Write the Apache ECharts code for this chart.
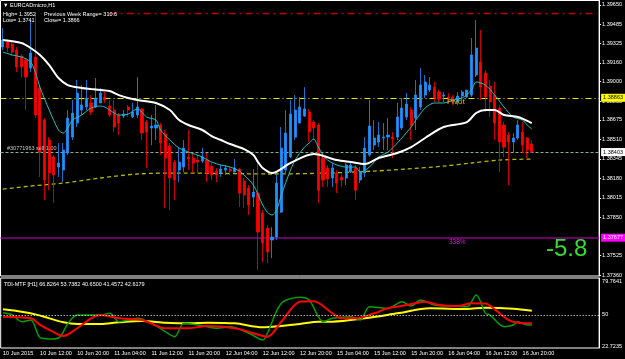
<!DOCTYPE html>
<html><head><meta charset="utf-8">
<script src="https://cdn.jsdelivr.net/npm/echarts@6/dist/echarts.min.js"></script>
<style>html,body{margin:0;padding:0;background:#000}#c{width:625px;height:359px}</style>
</head><body><div id="c"></div><script>
// ---- data ----
const opens=[1.39293,1.39336,1.39319,1.39268,1.39217,1.39183,1.39115,1.39209,1.38946,1.38674,
1.38505,1.38361,1.38276,1.38250,1.38395,1.38530,1.38649,1.38759,1.38785,1.38819,
1.38785,1.38819,1.38870,1.38793,1.38759,1.38717,1.38708,1.38785,1.38700,1.38717,
1.38768,1.38657,1.38607,1.38607,1.38632,1.38556,1.38454,1.38318,1.38250,1.38276,
1.38361,1.38352,1.38335,1.38327,1.38335,1.38284,1.38242,1.38225,1.38250,1.38259,
1.38233,1.38259,1.38157,1.38098,1.38021,1.38055,1.37886,1.37758,1.37657,1.37682,
1.37894,1.38250,1.38361,1.38530,1.38649,1.38708,1.38742,1.38657,1.38632,1.38352,
1.38267,1.38183,1.38225,1.38191,1.38183,1.38233,1.38267,1.38166,1.38225,1.38378,
1.38462,1.38488,1.38522,1.38530,1.38530,1.38530,1.38607,1.38700,1.38759,1.38691,
1.38785,1.38886,1.38929,1.38954,1.38912,1.38878,1.38870,1.38870,1.38827,1.38878,
1.38870,1.38886,1.39056,1.39166,1.39073,1.38963,1.38886,1.38776,1.38632,1.38547,
1.38488,1.38522,1.38573,1.38522,1.38471];
const closes=[1.39353,1.39285,1.39251,1.39124,1.39124,1.39039,1.39243,1.38717,1.38403,1.38166,
1.38225,1.38208,1.38310,1.38420,1.38691,1.38734,1.38903,1.38802,1.38861,1.38742,
1.38861,1.38903,1.38844,1.38717,1.38615,1.38649,1.38725,1.38759,1.38742,1.38785,
1.38564,1.38573,1.38624,1.38632,1.38479,1.38352,1.38183,1.38166,1.38318,1.38437,
1.38344,1.38310,1.38318,1.38361,1.38225,1.38208,1.38208,1.38259,1.38267,1.38242,
1.38267,1.38055,1.38038,1.37954,1.38064,1.37725,1.37632,1.37555,1.37682,1.38140,
1.38437,1.38564,1.38725,1.38759,1.38785,1.38768,1.38573,1.38607,1.38080,1.38166,
1.38174,1.38267,1.38140,1.38166,1.38293,1.38293,1.38080,1.38233,1.38437,1.38624,
1.38522,1.38547,1.38530,1.38547,1.38513,1.38700,1.38776,1.38810,1.38632,1.38886,
1.38971,1.38997,1.38971,1.38861,1.38853,1.38886,1.38861,1.38827,1.38878,1.38912,
1.38929,1.39226,1.39285,1.38954,1.38870,1.38827,1.38649,1.38488,1.38445,1.38488,
1.38522,1.38632,1.38462,1.38420,1.38403];
const lows=[1.39268,1.39251,1.39217,1.39081,1.39039,1.38759,1.39081,1.38691,1.38191,1.37996,
1.38080,1.37970,1.38191,1.38149,1.38378,1.38505,1.38615,1.38717,1.38759,1.38717,
1.38776,1.38819,1.38819,1.38700,1.38573,1.38547,1.38691,1.38700,1.38691,1.38691,
1.38505,1.38267,1.38462,1.38505,1.38378,1.37928,1.37911,1.37996,1.38149,1.38233,
1.38250,1.38225,1.38225,1.38310,1.38149,1.38166,1.38149,1.38191,1.38208,1.38208,
1.38233,1.37937,1.37928,1.37869,1.37937,1.37402,1.37470,1.37462,1.37504,1.37657,
1.37886,1.38225,1.38352,1.38505,1.38649,1.38700,1.38488,1.38505,1.37970,1.38106,
1.38106,1.38106,1.38055,1.38106,1.38123,1.38225,1.37996,1.38140,1.38191,1.38361,
1.38420,1.38445,1.38420,1.38420,1.38352,1.38505,1.38590,1.38674,1.38505,1.38590,
1.38759,1.38861,1.38912,1.38827,1.38827,1.38827,1.38819,1.38802,1.38802,1.38844,
1.38861,1.38870,1.39039,1.38844,1.38742,1.38700,1.38505,1.38233,1.38361,1.38123,
1.38395,1.38505,1.38395,1.38352,1.38395];
const highs=[1.39455,1.39353,1.39336,1.39293,1.39234,1.39200,1.39522,1.39582,1.38971,1.38691,
1.38530,1.38378,1.38479,1.38479,1.38759,1.38844,1.39014,1.38971,1.39014,1.38886,
1.39031,1.38946,1.38912,1.38844,1.38844,1.38734,1.38759,1.38802,1.38819,1.39039,
1.38776,1.38674,1.38717,1.38802,1.38649,1.38590,1.38479,1.38335,1.38437,1.38505,
1.38590,1.38395,1.38378,1.38437,1.38395,1.38310,1.38267,1.38293,1.38293,1.38276,
1.38344,1.38267,1.38183,1.38123,1.38259,1.38318,1.37911,1.37784,1.37767,1.38208,
1.38615,1.38759,1.38844,1.38886,1.38870,1.38954,1.38768,1.38674,1.38649,1.38378,
1.38293,1.38310,1.38250,1.38225,1.38310,1.38318,1.38293,1.38276,1.38530,1.38844,
1.38674,1.38657,1.38649,1.38691,1.38573,1.38819,1.38861,1.38903,1.38785,1.39014,
1.39115,1.39056,1.39039,1.38997,1.38929,1.38912,1.38903,1.38886,1.38912,1.38929,
1.38929,1.39370,1.39522,1.39438,1.39098,1.39014,1.38997,1.38802,1.38657,1.38573,
1.38564,1.38674,1.38657,1.38530,1.38505];
// moving averages: [bar index, price]
const maWhite=[[0,1.39353],[4,1.39327],[6,1.39285],[8,1.39226],[10,1.39141],[12,1.39031],[14,1.38971],[17,1.38946],[19,1.38937],[21,1.38929],[23,1.38920],[25,1.38886],[27,1.38861],[29,1.38844],[33,1.38819],[36,1.38759],[38,1.38674],[40,1.38632],[43,1.38590],[45,1.38539],[47,1.38505],[49,1.38471],[52,1.38428],[54,1.38378],[55,1.38318],[56,1.38267],[58,1.38225],[62,1.38310],[67,1.38386],[72,1.38335],[75,1.38318],[78,1.38301],[81,1.38352],[85,1.38395],[88,1.38445],[91,1.38522],[95,1.38615],[100,1.38657],[102,1.38734],[104,1.38759],[106,1.38759],[108,1.38717],[111,1.38700],[114,1.38649]];
const maCyan=[[0,1.39251],[2,1.39226],[4,1.39209],[6,1.39166],[7,1.39081],[8,1.38954],[10,1.38759],[12,1.38590],[13,1.38564],[14,1.38607],[15,1.38674],[17,1.38717],[19,1.38776],[21,1.38793],[22,1.38785],[23,1.38759],[24,1.38734],[25,1.38717],[27,1.38725],[29,1.38768],[31,1.38700],[33,1.38674],[34,1.38590],[36,1.38505],[38,1.38437],[40,1.38403],[43,1.38361],[45,1.38318],[47,1.38293],[49,1.38276],[51,1.38242],[52,1.38208],[54,1.38123],[56,1.37954],[57,1.37894],[58,1.37869],[59,1.37911],[60,1.38038],[62,1.38250],[63,1.38335],[65,1.38445],[66,1.38479],[67,1.38513],[68,1.38445],[69,1.38378],[70,1.38335],[72,1.38293],[74,1.38276],[76,1.38276],[77,1.38233],[79,1.38276],[81,1.38361],[83,1.38403],[85,1.38479],[88,1.38615],[89,1.38674],[91,1.38776],[93,1.38819],[95,1.38819],[97,1.38844],[99,1.38861],[101,1.38929],[102,1.38997],[104,1.38971],[106,1.38886],[108,1.38785],[110,1.38700],[112,1.38674],[113,1.38632],[114,1.38598]];
const maSlow=[[0,1.38089],[6,1.38115],[13,1.38140],[21,1.38183],[29,1.38217],[38,1.38225],[58,1.38217],[70,1.38225],[80,1.38242],[87,1.38259],[95,1.38284],[101,1.38310],[107,1.38335],[114,1.38344]];
// TDI: [bar index, value]
const tdiYellow=[[0,54.9],[4,52.8],[7,50.5],[10,47.0],[13,43.5],[16,42.0],[21,42.0],[25,43.5],[30,44.7],[35,43.2],[40,42.6],[44,43.2],[50,42.6],[56,39.1],[60,40.3],[64,42.0],[68,44.1],[71,44.1],[78,47.0],[85,51.4],[92,55.8],[100,55.2],[104,56.3],[110,55.5],[114,53.74]];
const tdiGreen=[[0,51.9],[2,50.0],[4,44.1],[6,45.5],[8,30.0],[10,28.9],[12,29.7],[14,42.6],[16,49.9],[21,49.9],[23,51.4],[25,44.1],[29,47.0],[32,42.6],[35,35.3],[37,30.9],[39,42.6],[42,41.2],[46,38.3],[49,39.7],[53,33.9],[56,28.0],[57,33.9],[60,60.2],[64,65.5],[66,63.1],[69,44.1],[71,47.0],[75,48.4],[77,45.5],[79,57.2],[83,55.8],[86,61.6],[88,57.8],[90,63.1],[93,58.7],[96,57.8],[100,57.2],[102,67.5],[104,51.4],[105,49.9],[108,39.7],[110,41.2],[111,44.1],[113,41.2],[114,41.46]];
const tdiRed=[[0,48.4],[6,47.0],[8,41.2],[10,36.8],[13,31.5],[16,38.3],[19,47.0],[21,49.9],[25,47.0],[30,45.5],[35,38.3],[40,38.3],[44,40.3],[50,38.3],[54,33.9],[57,30.9],[60,44.1],[64,61.6],[67,62.0],[71,51.4],[73,47.0],[76,47.0],[80,51.4],[83,55.8],[87,58.7],[91,61.6],[94,58.7],[98,57.8],[101,60.2],[104,60.0],[106,54.9],[109,45.5],[111,43.2],[114,42.62]];
// levels
const levelPivot=1.38863, levelOrder=1.38403, levelTarget=1.37677, levelPrevHigh=1.39580;
// tick labels
const priceTicks=[1.39650,1.39485,1.39325,1.39160,1.39000,1.38835,1.38675,1.38510,1.38345,1.38180,1.38015,1.37850,1.37525,1.37360];
const tdiTicks=[79.7641,50,22.7235];
const tdiTickText=['79.7641','50','22.7235'];
const xTickLabels=['10 Jun 2015','10 Jun 12:00','10 Jun 20:00','11 Jun 04:00','11 Jun 12:00','11 Jun 20:00','12 Jun 04:00','12 Jun 12:00','12 Jun 20:00','15 Jun 04:00','15 Jun 12:00','15 Jun 20:00','16 Jun 04:00','16 Jun 12:00','16 Jun 20:00'];
const sessionDays=[['10 Jun',4],['11 Jun',0],['12 Jun',0],['15 Jun',0],['16 Jun',0],['17 Jun',0]];
// ---- build ----
const cats=[];
sessionDays.forEach(([d,h0])=>{for(let h=h0;h<24&&cats.length<129;h++)cats.push(d+' '+String(h).padStart(2,'0')+':00');});
const candle=opens.map((o,i)=>[o,closes[i],lows[i],highs[i]]);
const F='Liberation Sans';
const lbl={color:'#fff',fontSize:5.5,fontFamily:F};
const chart=echarts.init(document.getElementById('c'),null,{renderer:'canvas'});
function t(x,y,s,c,fs,extra){return {type:'text',x:x,y:y,silent:true,z:100,style:Object.assign({text:s,fill:c||'#fff',font:(fs||5.5)+'px "'+F+'"',textVerticalAlign:'middle'},extra||{})};}
function boxLabel(txt,bg,fg){return {show:true,position:'end',distance:2,formatter:txt,color:fg,backgroundColor:bg,fontSize:5.5,fontFamily:F,padding:[1,2]};}
chart.setOption({
 backgroundColor:'#000',animation:false,
 grid:[{left:0.5,top:0.5,width:600,height:275.5,show:true,borderColor:'#fff',borderWidth:1,backgroundColor:'#000'},
       {left:0.5,top:278,width:600,height:70,show:true,borderColor:'#fff',borderWidth:1,backgroundColor:'#000'}],
 xAxis:[{type:'category',gridIndex:0,data:cats,boundaryGap:true,axisLine:{show:false},axisTick:{show:false},axisLabel:{show:false},splitLine:{show:false}},
        {type:'category',gridIndex:1,data:cats,boundaryGap:true,axisLine:{show:false},
         axisTick:{show:false},
         axisLabel:Object.assign({},lbl,{margin:2,align:'left',interval:(i)=>i%8===0&&i<=112,formatter:(v,i)=>xTickLabels[i/8]||''})}],
 yAxis:[{type:'value',gridIndex:0,position:'right',min:1.37352,max:1.39688,axisLine:{show:true,lineStyle:{color:'#fff'}},
         axisTick:{show:true,length:2,customValues:priceTicks,lineStyle:{color:'#fff'}},splitLine:{show:false},
         axisLabel:Object.assign({},lbl,{margin:3,customValues:priceTicks,formatter:v=>v.toFixed(5)})},
        {type:'value',gridIndex:1,position:'right',min:20.97,max:82.40,axisLine:{show:true,lineStyle:{color:'#fff'}},
         axisTick:{show:false},splitLine:{show:false},
         axisLabel:Object.assign({},lbl,{margin:3,customValues:tdiTicks,formatter:v=>tdiTickText[tdiTicks.indexOf(v)]||String(v)})}],
 series:[
  {type:'line',xAxisIndex:0,yAxisIndex:0,data:maSlow,symbol:'none',smooth:0.3,z:2,lineStyle:{color:'#b8b800',width:1.3,type:[4,3]},
   markLine:{silent:true,symbol:'none',z:1,animation:false,precision:5,data:[
     {yAxis:levelPivot,lineStyle:{color:'#e6e600',width:1,type:[6,3,1,3]},label:boxLabel('1.38863','#ffff00','#000')},
     {yAxis:levelOrder,lineStyle:{color:'#7fb88f',width:1,type:[3,2]},label:boxLabel('1.38403','#ffffff','#000')},
     {yAxis:levelTarget,lineStyle:{color:'#8b008b',width:1.6,type:'solid'},label:boxLabel('1.37677','#ff00ff','#fff')},
     [{coord:[23,levelPrevHigh],lineStyle:{color:'#c00000',width:1.4,type:[7,4,2,4]},label:{show:false}},{coord:[128,levelPrevHigh]}]
   ]}},
  {type:'candlestick',xAxisIndex:0,yAxisIndex:0,data:candle,barWidth:2.6,z:3,
   itemStyle:{color:'#1e90ff',color0:'#ff0000',borderColor:'#1e90ff',borderColor0:'#ff0000',borderWidth:0.8}},
  {type:'line',xAxisIndex:0,yAxisIndex:0,data:maCyan,symbol:'none',smooth:0.3,z:4,lineStyle:{color:'#20c0c0',width:1}},
  {type:'line',xAxisIndex:0,yAxisIndex:0,data:maWhite,symbol:'none',smooth:0.3,z:4,lineStyle:{color:'#ffffff',width:2}},
  {type:'line',xAxisIndex:1,yAxisIndex:1,data:tdiYellow,symbol:'none',smooth:0.3,z:2,lineStyle:{color:'#ffff00',width:2},
   markLine:{silent:true,symbol:'none',data:[{yAxis:50}],lineStyle:{color:'#fff',width:1,type:[1,2]},label:{show:false}}},
  {type:'line',xAxisIndex:1,yAxisIndex:1,data:tdiGreen,symbol:'none',smooth:0.3,z:3,lineStyle:{color:'#00a000',width:1.5}},
  {type:'line',xAxisIndex:1,yAxisIndex:1,data:tdiRed,symbol:'none',smooth:0.3,z:4,lineStyle:{color:'#ff0000',width:2}}
 ],
 graphic:[
  t(3,5,'▼ EURCADmicro,H1','#fff',5.5),
  t(3,14,'High= 1.3952','#fff',5.5),
  t(44,14,'Previous Week Range= 310.6','#fff',5.5),
  t(3,20.5,'Low= 1.3741','#fff',5.5),
  t(44,20.5,'Close= 1.3866','#fff',5.5),
  t(7,148,'#30771963 sell 1.00','#c8c8c8',5.5),
  t(447,101.5,'Pivot','#d8c000',8),
  t(449,242,'338%','#d020d0',6.5),
  t(546,249,'-5.8','#33dd33',24),
  t(4,284,'TDI-MTF [H1] 66.8264 53.7382 40.6500 41.4572 42.6179','#fff',5.5)
 ]
});
</script></body></html>
